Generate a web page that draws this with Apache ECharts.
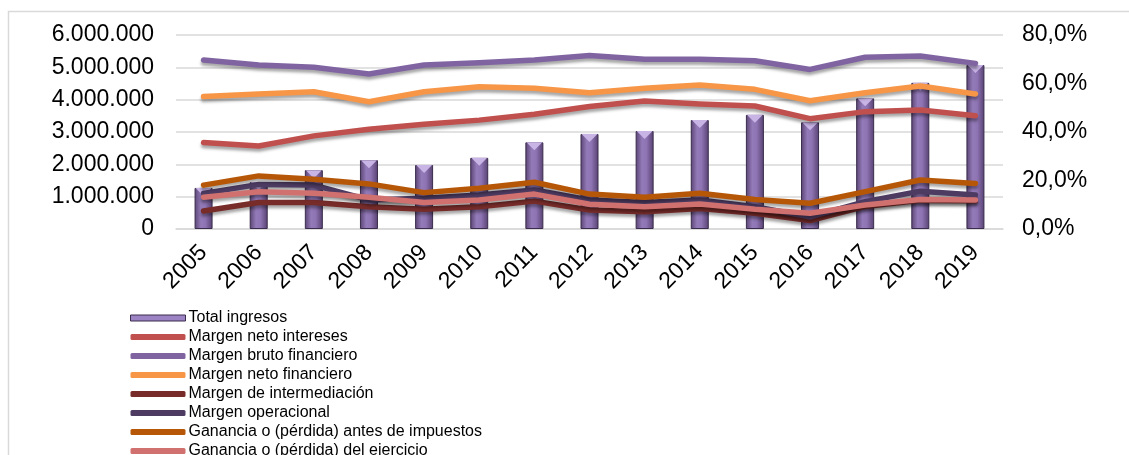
<!DOCTYPE html>
<html>
<head>
<meta charset="utf-8">
<script src="https://cdn.jsdelivr.net/npm/echarts@6/dist/echarts.min.js"></script>
<style>
html,body{margin:0;padding:0;background:#fff;}
#chart{width:1129px;height:455px;}
</style>
</head>
<body>
<div id="chart"></div>
<script>
const years = ['2005','2006','2007','2008','2009','2010','2011','2012','2013','2014','2015','2016','2017','2018','2019'];
const totalIngresos = [1270000, 1450000, 1820000, 2130000, 1980000, 2200000, 2680000, 2940000, 3030000, 3370000, 3530000, 3300000, 4040000, 4520000, 5070000];
const margenNetoIntereses = [35.7, 34.2, 38.4, 41.1, 43.2, 44.9, 47.3, 50.5, 52.8, 51.5, 50.7, 45.5, 48.4, 49.1, 46.7];
const margenBrutoFinanciero = [69.7, 67.6, 66.7, 63.9, 67.6, 68.6, 69.7, 71.5, 70.0, 70.0, 69.4, 65.8, 70.8, 71.3, 68.3];
const margenNetoFinanciero = [54.6, 55.7, 56.6, 52.5, 56.6, 58.7, 58.0, 56.2, 58.0, 59.4, 57.6, 52.9, 56.2, 59.0, 55.7];
const margenIntermediacion = [7.4, 10.9, 10.9, 9.2, 8.1, 9.2, 11.5, 7.8, 7.1, 8.5, 6.5, 3.5, 9.3, 11.8, 11.7];
const margenOperacional = [14.7, 18.4, 18.1, 12.0, 12.7, 14.0, 16.1, 12.0, 10.9, 12.0, 9.2, 5.0, 11.3, 15.6, 14.0];
const gananciaAntes = [18.1, 21.9, 20.5, 18.6, 15.0, 16.8, 19.3, 14.4, 13.1, 14.7, 12.2, 10.6, 15.4, 20.2, 18.8];
const gananciaEjercicio = [13.1, 15.4, 14.7, 13.1, 10.9, 12.0, 14.4, 10.2, 9.2, 10.3, 8.1, 6.5, 9.9, 12.2, 12.0];
const leftTicks = [0, 1000000, 2000000, 3000000, 4000000, 5000000, 6000000];
const rightTicks = [0, 20, 40, 60, 80];

const FONT = "'Liberation Sans', Arial, sans-serif";
const lineDefs = [
  ['Margen neto intereses', margenNetoIntereses, '#C0504D'],
  ['Margen bruto financiero', margenBrutoFinanciero, '#8064A2'],
  ['Margen neto financiero', margenNetoFinanciero, '#F79646'],
  ['Margen de intermediación', margenIntermediacion, '#772C2A'],
  ['Margen operacional', margenOperacional, '#4D3B62'],
  ['Ganancia o (pérdida) antes de impuestos', gananciaAntes, '#B65708'],
  ['Ganancia o (pérdida) del ejercicio', gananciaEjercicio, '#D1716F']
];

const barGrad = new echarts.graphic.LinearGradient(0, 0, 1, 0, [
  {offset: 0, color: '#5A4472'},
  {offset: 0.35, color: '#937AB8'},
  {offset: 0.6, color: '#8E74B3'},
  {offset: 1, color: '#574170'}
]);

const series = [
  {
    name: 'Total ingresos', type: 'bar', data: totalIngresos, barWidth: 18, barGap: '-100%',
    itemStyle: {color: barGrad, borderColor: '#3A2C4C', borderWidth: 1},
    z: 1
  },
  {
    name: 'tri', type: 'pictorialBar', data: totalIngresos, symbol: 'triangle', barWidth: 18, barGap: '-100%',
    symbolRotate: 180, symbolSize: [16, 8], symbolPosition: 'end', symbolOffset: [0, 0],
    itemStyle: {color: '#C9B4E6'}, z: 2, silent: true
  }
];
lineDefs.forEach(function (d) {
  series.push({
    name: d[0], type: 'line', yAxisIndex: 1, data: d[1], showSymbol: false, symbol: 'none',
    lineStyle: {color: d[2], width: 5.5, cap: 'round', join: 'round',
      shadowColor: 'rgba(0,0,0,0.35)', shadowBlur: 3, shadowOffsetY: 3},
    itemStyle: {color: d[2]}, z: 3
  });
});

const legendData = [{name: 'Total ingresos', icon: 'rect', itemStyle: {color: '#9C83C4', borderColor: '#3A2C4C', borderWidth: 1}}]
  .concat(lineDefs.map(function (d) { return {name: d[0], icon: 'roundRect'}; }));

const chart = echarts.init(document.getElementById('chart'));
chart.setOption({
  animation: false,
  backgroundColor: '#fff',
  textStyle: {fontFamily: FONT},
  graphic: [{
    type: 'polyline', silent: true,
    shape: {points: [[8.5, 455], [8.5, 11.5], [1129, 11.5]]},
    style: {stroke: '#D9D9D9', lineWidth: 1.5, fill: null}
  }],
  grid: {left: 176, right: 126, top: 35, bottom: 226, containLabel: false},
  legend: {
    orient: 'vertical', left: 130, top: 310, height: 300, padding: 0, itemWidth: 55, itemHeight: 6, itemGap: 3,
    data: legendData,
    textStyle: {fontFamily: FONT, fontSize: 16, color: '#000', lineHeight: 16, padding: [0, 0, 0, -2]}
  },
  xAxis: {
    type: 'category', data: years,
    axisTick: {show: false},
    axisLine: {lineStyle: {color: '#D9D9D9', width: 1.5}},
    axisLabel: {rotate: 45, fontSize: 23, color: '#000', fontFamily: FONT, margin: 20, interval: 0}
  },
  yAxis: [
    {
      type: 'value', min: leftTicks[0], max: leftTicks[leftTicks.length - 1], interval: 1000000,
      axisLine: {show: false}, axisTick: {show: false},
      splitLine: {lineStyle: {color: '#D9D9D9', width: 1.5}},
      axisLabel: {fontSize: 23, color: '#000', fontFamily: FONT, margin: 22,
        formatter: function (v) { return String(v).replace(/\B(?=(\d{3})+(?!\d))/g, '.'); }}
    },
    {
      type: 'value', min: rightTicks[0], max: rightTicks[rightTicks.length - 1], interval: 20,
      axisLine: {show: false}, axisTick: {show: false}, splitLine: {show: false},
      axisLabel: {fontSize: 23, color: '#000', fontFamily: FONT, margin: 19,
        formatter: function (v) { return v.toFixed(1).replace('.', ',') + '%'; }}
    }
  ],
  series: series
});
</script>
</body>
</html>
